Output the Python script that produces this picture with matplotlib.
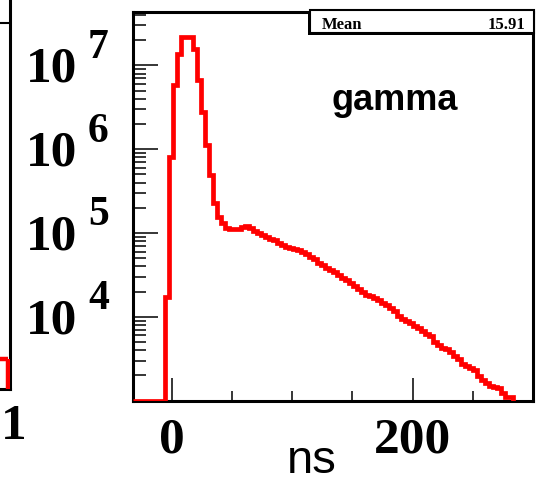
import numpy as np
import matplotlib
matplotlib.use("Agg")
import matplotlib.pyplot as plt
from matplotlib.transforms import offset_copy
from matplotlib.ticker import LogLocator, MultipleLocator, FixedLocator, NullFormatter
from matplotlib.patches import Rectangle

# ---------------- data ----------------
x_min, x_max = -32.0, 300.0
bin_width = 3.32
bin_counts = [0, 0, 0, 0, 0, 0, 0, 0,
              1.73e4, 8.1e5, 5.85e6, 1.37e7, 2.19e7, 2.19e7, 2.19e7, 1.57e7,
              6.71e6, 2.79e6, 1.125e6, 4.94e5, 2.29e5, 1.56e5, 1.32e5, 1.15e5,
              1.12e5, 1.12e5, 1.12e5, 1.18e5, 1.22e5, 1.15e5, 1.06e5, 1.00e5,
              9.49e4, 8.99e4, 8.50e4, 8.27e4, 7.62e4, 7.21e4, 6.82e4, 6.64e4,
              6.46e4, 6.28e4, 5.95e4, 5.63e4, 5.19e4, 4.91e4, 4.40e4, 4.16e4,
              3.83e4, 3.63e4, 3.44e4, 3.16e4, 2.91e4, 2.75e4, 2.54e4, 2.34e4,
              2.15e4, 1.98e4, 1.82e4, 1.78e4, 1.68e4, 1.59e4, 1.47e4, 1.39e4,
              1.28e4, 1.18e4, 1.025e4, 9.44e3, 8.93e3, 8.46e3, 7.79e3, 7.37e3,
              6.79e3, 6.25e3, 5.92e3, 5.02e3, 4.62e3, 4.26e3, 4.14e3, 3.81e3,
              3.42e3, 3.15e3, 2.74e3, 2.59e3, 2.45e3, 2.32e3, 1.97e3, 1.77e3,
              1.63e3, 1.50e3, 1.46e3, 1.42e3, 1.24e3, 1.11e3, 1.11e3]
y_min, y_max = 1.0e3, 4.4e7
x_tick_values = [0, 200]
x_tick_labels = ["0", "200"]
y_tick_exponents = [4, 5, 6, 7]
stats_label, stats_value = "Mean", "15.91"
title_text = "gamma"
x_label = "ns"

W, H = 539, 484
DPI = 100
fig = plt.figure(figsize=(W / DPI, H / DPI), dpi=DPI)

def px_rect(x0, y0, x1, y1):
    # pixel (top-left origin) to figure fraction [l, b, w, h]
    return [x0 / W, 1 - y1 / H, (x1 - x0) / W, (y1 - y0) / H]

SERIF_B = dict(family="Liberation Serif", weight="bold")
RED = "#ff0000"

# ---------------- main axes ----------------
ax = fig.add_axes(px_rect(133, 11.5, 533, 400.5))
counts = np.array(bin_counts, dtype=float)
edges = x_min + bin_width * np.arange(len(counts) + 1)
vals = np.where(counts > 0, counts, y_min)
ax.stairs(vals, edges, baseline=y_min, color=RED, lw=3.4, zorder=3)

ax.set_xlim(x_min, x_max)
ax.set_yscale("log")
ax.set_ylim(y_min, y_max)

for s in ax.spines.values():
    s.set_linewidth(2.2)
    s.set_color("black")

ax.xaxis.set_major_locator(FixedLocator(x_tick_values))
ax.xaxis.set_minor_locator(MultipleLocator(50))
ax.yaxis.set_major_locator(LogLocator(base=10, numticks=20))
ax.yaxis.set_minor_locator(LogLocator(base=10, subs=np.arange(2, 10), numticks=50))
ax.xaxis.set_major_formatter(NullFormatter())
ax.xaxis.set_minor_formatter(NullFormatter())
ax.yaxis.set_major_formatter(NullFormatter())
ax.yaxis.set_minor_formatter(NullFormatter())
ax.tick_params(axis="both", which="both", direction="in", top=False, right=False,
               color="black")
ax.tick_params(axis="y", which="major", length=18, width=1.1)
ax.tick_params(axis="y", which="minor", length=9, width=1.1)
ax.tick_params(axis="x", which="major", length=16.5, width=1.1)
ax.tick_params(axis="x", which="minor", length=7.5, width=1.1)

# y tick labels "10" + exponent
for e in y_tick_exponents:
    t10 = offset_copy(ax.get_yaxis_transform(), fig, x=-56, y=-16.5, units="dots")
    ax.text(0, 10.0 ** e, "10", transform=t10, ha="right", va="baseline",
            fontsize=37, clip_on=False, **SERIF_B)
    tex = offset_copy(ax.get_yaxis_transform(), fig, x=-45, y=7.5, units="dots")
    ax.text(0, 10.0 ** e, str(e), transform=tex, ha="left", va="baseline",
            fontsize=30, clip_on=False, **SERIF_B)

# x tick labels
for v, lab in zip(x_tick_values, x_tick_labels):
    tx = offset_copy(ax.get_xaxis_transform(), fig, y=-52, units="dots")
    ax.text(v, 0, lab, transform=tx, ha="center", va="baseline",
            fontsize=37, clip_on=False, **SERIF_B)

# x axis title
fig.text(312 / W, 1 - 473 / H, x_label, ha="center", va="baseline",
         fontsize=34, family="Liberation Sans")

# "gamma" label
ax.text((395 - 133) / 400, (400.5 - 110) / 389, title_text, transform=ax.transAxes,
        ha="center", va="baseline", fontsize=26, weight="bold",
        family="Liberation Sans")

# stats box
sb = px_rect(310, 10, 534, 33)
fig.patches.append(Rectangle((sb[0] - 2 / W, sb[1] - 2 / H), sb[2], sb[3],
                             transform=fig.transFigure, facecolor="black",
                             edgecolor="black", lw=0, zorder=5))
fig.patches.append(Rectangle((sb[0], sb[1]), sb[2], sb[3],
                             transform=fig.transFigure, facecolor="white",
                             edgecolor="black", lw=1.5, zorder=6))
fig.text(322 / W, 1 - 29 / H, stats_label, ha="left", va="baseline",
         fontsize=12, zorder=7, **SERIF_B)
fig.text(525 / W, 1 - 29 / H, stats_value, ha="right", va="baseline",
         fontsize=12, zorder=7, **SERIF_B)

# ---------------- partial neighbouring panel at the left edge ----------------
ax2 = fig.add_axes(px_rect(-160, -5, 9.5, 389))
ax2.set_xlim(0, 1)
ax2.set_ylim(0, 1)
ax2.stairs([(389 - 359) / 394], [0.9, (160 + 7.5) / 169.5], baseline=None,
           color=RED, lw=3.2, zorder=3)
ax2.plot([(160 + 7.5) / 169.5] * 2, [0, (389 - 359) / 394], color=RED, lw=3.2,
         zorder=3, solid_capstyle="butt")
for side in ("top", "left"):
    ax2.spines[side].set_visible(False)
for side in ("right", "bottom"):
    ax2.spines[side].set_linewidth(2.2)
ax2.set_xticks([])
ax2.set_yticks([])
ax2.patch.set_alpha(0)
# stats box corner of the neighbouring panel
fig.add_artist(plt.Line2D([0, 10 / W], [1 - 23 / H, 1 - 23 / H], color="black",
                          lw=1.5, transform=fig.transFigure))
fig.text(0.5 / W, 1 - 439 / H, "1", ha="left", va="baseline", fontsize=37,
         **SERIF_B)

fig.savefig("out.png", dpi=DPI)
